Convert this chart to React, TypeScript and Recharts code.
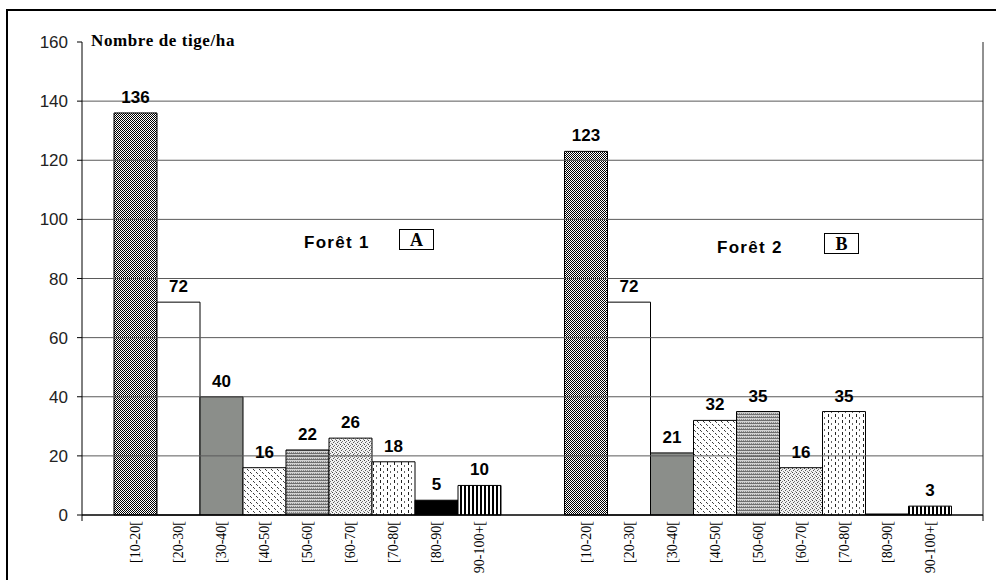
import React from 'react';
import { BarChart, Bar, XAxis, YAxis, LabelList, ReferenceLine } from 'recharts';

const classes = ['[10-20[', '[20-30[', '[30-40[', '[40-50[', '[50-60[', '[60-70[', '[70-80[', '[80-90[', '90-100+['];
const forests = ['Forêt 1', 'Forêt 2'];
const foret1 = [136, 72, 40, 16, 22, 26, 18, 5, 10];
const foret2 = [123, 72, 21, 32, 35, 16, 35, 0, 3];
const yTicks = [0, 20, 40, 60, 80, 100, 120, 140, 160];
const gridValues = [20, 40, 60, 80, 100, 120, 140];
const groupBounds = [1, 2];
const boundTicks = [0, 1, 2];

const seriesValues = [foret1, foret2];
const data = forests.map((name, fi) => {
  const row: any = { name };
  classes.forEach((_, i) => {
    row['s' + i] = seriesValues[fi][i];
  });
  return row;
});

const fills = ['url(#p0)', '#ffffff', '#8b8e8a', 'url(#p3)', 'url(#p4)', 'url(#p5)', 'url(#p6)', '#000000', 'url(#p8)'];

const ClassLabel = (p: any) => {
  const vb = p.viewBox || p;
  const x = vb.x ?? p.x;
  const y = vb.y ?? p.y;
  const w = vb.width ?? p.width;
  const h = vb.height ?? p.height;
  if (x == null || y == null || isNaN(x) || isNaN(y)) return null;
  const cx = x + w / 2;
  const by = y + Math.max(h || 0, 0) + 6;
  return (
    <text
      x={cx}
      y={by}
      transform={`rotate(-90 ${cx} ${by})`}
      textAnchor="end"
      dominantBaseline="central"
      fontFamily="'Liberation Serif', 'Times New Roman', serif"
      fontSize={14}
      fill="#000"
    >
      {p.text}
    </text>
  );
};

export default function App() {
  return (
    <div style={{ position: 'fixed', left: 0, top: 0, width: 996, height: 580, overflow: 'hidden', background: '#fff' }}>
      <div style={{ position: 'absolute', left: 6, top: 9, width: 1010, height: 620, border: '2px solid #000' }} />
      <div style={{ position: 'absolute', left: 0, top: 0 }}>
        <BarChart
          width={996}
          height={580}
          data={data}
          margin={{ top: 42, right: 13, bottom: 5, left: 0 }}
          barCategoryGap={32}
          barGap={0}
        >
          <defs>
            <pattern id="p0" width="2" height="2" patternUnits="userSpaceOnUse">
              <rect width="2" height="2" fill="#fff" />
              <rect x="0" y="0" width="1" height="1" fill="#000" />
              <rect x="1" y="1" width="1" height="1" fill="#000" />
            </pattern>
            <pattern id="p3" width="6" height="6" patternUnits="userSpaceOnUse">
              <rect width="6" height="6" fill="#fff" />
              <rect x="1" y="1" width="1" height="1" fill="#333" />
              <rect x="2" y="2" width="1" height="1" fill="#555" />
              <rect x="4" y="4" width="1" height="1" fill="#333" />
              <rect x="5" y="5" width="1" height="1" fill="#555" />
            </pattern>
            <pattern id="p4" width="2" height="3" patternUnits="userSpaceOnUse">
              <rect width="2" height="3" fill="#d2d2d2" />
              <rect x="0" y="0" width="2" height="1" fill="#6e6e6e" />
              <rect x="1" y="2" width="1" height="1" fill="#8a8a8a" />
            </pattern>
            <pattern id="p5" width="4" height="4" patternUnits="userSpaceOnUse">
              <rect width="4" height="4" fill="#f2f2f2" />
              <rect x="0" y="0" width="1" height="1" fill="#444" />
              <rect x="2" y="1" width="1" height="1" fill="#777" />
              <rect x="1" y="2" width="1" height="1" fill="#555" />
              <rect x="3" y="3" width="1" height="1" fill="#888" />
            </pattern>
            <pattern id="p6" width="7" height="6" patternUnits="userSpaceOnUse">
              <rect width="7" height="6" fill="#fff" />
              <rect x="2" y="0" width="1" height="3" fill="#222" />
              <rect x="5" y="3" width="1" height="2" fill="#666" />
            </pattern>
            <pattern id="p8" width="4" height="4" patternUnits="userSpaceOnUse">
              <rect width="4" height="4" fill="#fff" />
              <rect x="0" y="0" width="2" height="4" fill="#000" />
            </pattern>
          </defs>
          <XAxis
            xAxisId="num"
            type="number"
            domain={[0, 2]}
            ticks={boundTicks}
            tickFormatter={() => ''}
            tickSize={6}
            height={60}
            stroke="#000"
            interval={0}
            allowDataOverflow
          />
          <XAxis xAxisId="cat" dataKey="name" hide height={0} />
          <YAxis
            domain={[0, 160]}
            ticks={yTicks}
            interval={0}
            width={82}
            tickSize={5}
            tickMargin={9}
            stroke="#000"
            tick={{ fill: '#222', fontSize: 17, fontFamily: "'Liberation Sans', Arial, sans-serif" }}
          />
          {gridValues.map((v) => (
            <ReferenceLine key={'g' + v} xAxisId="num" y={v} stroke="#5a5a5a" strokeWidth={1} />
          ))}
          <ReferenceLine xAxisId="num" y={0} stroke="#000" strokeWidth={1} />
          {groupBounds.map((v) => (
            <ReferenceLine key={'b' + v} xAxisId="num" x={v} stroke={v === 1 ? '#222' : '#777'} strokeWidth={1} ifOverflow="extendDomain" />
          ))}
          {classes.map((c, i) => (
            <Bar
              key={c}
              xAxisId="cat"
              dataKey={'s' + i}
              name={c}
              fill={fills[i]}
              stroke="#000"
              strokeWidth={1}
              minPointSize={1}
              isAnimationActive={false}
            >
              <LabelList
                dataKey={'s' + i}
                position="top"
                offset={10}
                fill="#000"
                fontSize={17}
                fontWeight="bold"
                fontFamily="'Liberation Sans', Arial, sans-serif"
                formatter={(v: any) => (v === 0 ? '' : v)}
              />
              <LabelList dataKey={'s' + i} content={(p: any) => <ClassLabel {...p} text={c} />} />
            </Bar>
          ))}
        </BarChart>
      </div>
      <div
        style={{
          position: 'absolute', left: 89, top: 31, background: '#fff', padding: '0 2px',
          fontFamily: "'Liberation Serif', 'Times New Roman', serif", fontWeight: 'bold', fontSize: 17,
          letterSpacing: 0.6, lineHeight: '20px', whiteSpace: 'nowrap',
        }}
      >
        Nombre de tige/ha
      </div>
      <div
        style={{
          position: 'absolute', left: 304, top: 232, fontFamily: "'Liberation Sans', Arial, sans-serif",
          fontWeight: 'bold', fontSize: 17, letterSpacing: 1.3, lineHeight: '22px', whiteSpace: 'nowrap',
        }}
      >
        Forêt 1
      </div>
      <div
        style={{
          position: 'absolute', left: 399, top: 229, width: 33, height: 19, border: '1px solid #000', background: '#fff',
          fontFamily: "'Liberation Serif', 'Times New Roman', serif", fontWeight: 'bold', fontSize: 18,
          lineHeight: '20px', textAlign: 'center',
        }}
      >
        A
      </div>
      <div
        style={{
          position: 'absolute', left: 717, top: 237, fontFamily: "'Liberation Sans', Arial, sans-serif",
          fontWeight: 'bold', fontSize: 17, letterSpacing: 1.3, lineHeight: '22px', whiteSpace: 'nowrap',
        }}
      >
        Forêt 2
      </div>
      <div
        style={{
          position: 'absolute', left: 824, top: 233, width: 33, height: 19, border: '1px solid #000', background: '#fff',
          fontFamily: "'Liberation Serif', 'Times New Roman', serif", fontWeight: 'bold', fontSize: 18,
          lineHeight: '20px', textAlign: 'center',
        }}
      >
        B
      </div>
    </div>
  );
}
